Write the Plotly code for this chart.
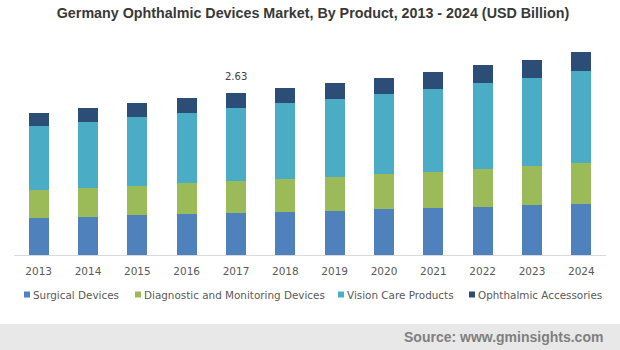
import plotly.graph_objects as go

# ---- data ----
years = ["2013", "2014", "2015", "2016", "2017", "2018", "2019", "2020", "2021", "2022", "2023", "2024"]
surgical = [0.60, 0.62, 0.65, 0.67, 0.68, 0.70, 0.71, 0.75, 0.76, 0.78, 0.81, 0.83]
diagnostic = [0.46, 0.47, 0.47, 0.50, 0.52, 0.54, 0.55, 0.57, 0.58, 0.62, 0.63, 0.67]
vision = [1.04, 1.07, 1.12, 1.14, 1.19, 1.23, 1.27, 1.30, 1.35, 1.40, 1.43, 1.48]
accessories = [0.21, 0.23, 0.23, 0.24, 0.24, 0.24, 0.26, 0.26, 0.28, 0.28, 0.29, 0.31]
series_names = ["Surgical Devices", "Diagnostic and Monitoring Devices", "Vision Care Products", "Ophthalmic Accessories"]
series_values = [surgical, diagnostic, vision, accessories]
colors = ["#4f81bd", "#9bbb59", "#4bacc6", "#2c4d75"]
label_year = "2017"

# ---- layout geometry (pixels) ----
W, H = 620, 350
ML, MR, MT, MB = 14, 14, 40, 95
PW, PH = W - ML - MR, H - MT - MB
Y0 = H - MB


def xp(px):
    return (px - ML) / PW


def yp(py):
    return (Y0 - py) / PH


fig = go.Figure()
for name, vals, col in zip(series_names, series_values, colors):
    fig.add_trace(go.Bar(x=years, y=vals, name=name, marker=dict(color=col, line=dict(width=0)),
                         showlegend=False))

# data label on 2017 total (category index on the category axis)
i = years.index(label_year)
total = sum(v[i] for v in series_values)
fig.add_annotation(x=i, y=total, text=f"{total:.2f}", showarrow=False, yanchor="bottom",
                   yshift=9, font=dict(family="DejaVu Sans", size=10, color="#404040"))

# custom legend
legend_x = [24, 135, 338, 469]
for name, col, lx in zip(series_names, colors, legend_x):
    fig.add_shape(type="rect", xref="paper", yref="paper", x0=xp(lx), x1=xp(lx + 6),
                  y0=yp(297.5), y1=yp(291.5), fillcolor=col, line=dict(width=0))
    fig.add_annotation(xref="paper", yref="paper", x=xp(lx + 7), y=yp(295), text=name,
                       showarrow=False, xanchor="left", yanchor="middle",
                       font=dict(family="DejaVu Sans", size=10.4, color="#595959"))

# source band
fig.add_shape(type="rect", xref="paper", yref="paper", x0=xp(0), x1=xp(W), y0=yp(350), y1=yp(324),
              fillcolor="#e8e8e8", line=dict(width=0), layer="below")
fig.add_annotation(xref="paper", yref="paper", x=xp(605), y=yp(337), text="<b>Source: www.gminsights.com</b>",
                   showarrow=False, xanchor="right", yanchor="middle",
                   font=dict(family="Liberation Sans", size=14, color="#7f7f7f"))

fig.update_layout(
    width=W, height=H,
    margin=dict(l=ML, r=MR, t=MT, b=MB, pad=0, autoexpand=False),
    barmode="stack", bargap=0.595,
    paper_bgcolor="white", plot_bgcolor="white",
    font=dict(family="DejaVu Sans", color="#595959"),
    title=dict(text="<b>Germany Ophthalmic Devices Market, By Product, 2013 - 2024 (USD Billion)</b>",
               x=(56 + 570) / 2 / W, xanchor="center", xref="container", y=1 - 12.8 / H, yref="container",
               yanchor="middle",
               font=dict(family="Liberation Sans", size=14.3, color="#383838")),
    xaxis=dict(type="category", range=[-0.5, len(years) - 0.5], showline=True, linecolor="#d9d9d9",
               linewidth=1, ticks="", showgrid=False, automargin=False,
               tickfont=dict(family="DejaVu Sans", size=10.5, color="#595959"), ticklabelstandoff=6),
    yaxis=dict(range=[0, 3.49], visible=False, showgrid=False, zeroline=False, automargin=False),
)

fig.write_html("out.html")
